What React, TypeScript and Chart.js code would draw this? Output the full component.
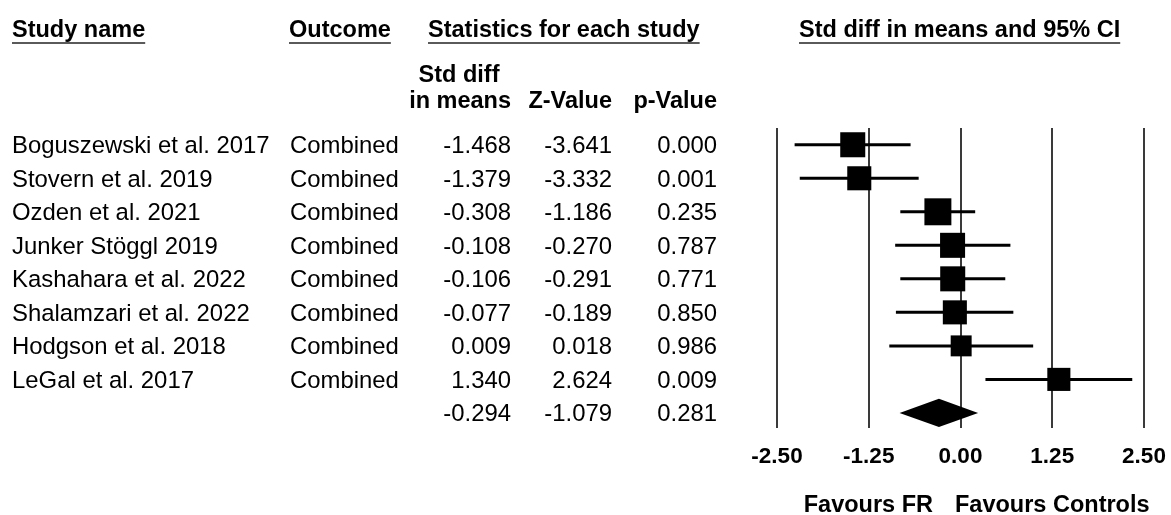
import React, { useEffect, useRef } from "react";
import { Chart, registerables } from "chart.js";

Chart.register(...registerables);

const studies = [
  "Boguszewski et al. 2017",
  "Stovern et al. 2019",
  "Ozden et al. 2021",
  "Junker Stöggl 2019",
  "Kashahara et al. 2022",
  "Shalamzari et al. 2022",
  "Hodgson et al. 2018",
  "LeGal et al. 2017",
];
const outcomes = ["Combined", "Combined", "Combined", "Combined", "Combined", "Combined", "Combined", "Combined"];
const stdDiff = [-1.468, -1.379, -0.308, -0.108, -0.106, -0.077, 0.009, 1.34];
const zValues = [-3.641, -3.332, -1.186, -0.27, -0.291, -0.189, 0.018, 2.624];
const pValues = [0.0, 0.001, 0.235, 0.787, 0.771, 0.85, 0.986, 0.009];
const lowerCI = [-2.26, -2.19, -0.82, -0.89, -0.82, -0.88, -0.97, 0.34];
const upperCI = [-0.68, -0.57, 0.2, 0.68, 0.61, 0.72, 0.99, 2.34];
const weights = [12.9, 12.4, 13.9, 12.9, 12.9, 12.4, 10.8, 11.9];

const summaryEst = -0.294;
const summaryLower = -0.83;
const summaryUpper = 0.24;
const summaryZ = -1.079;
const summaryP = 0.281;

const xTicks = [-2.5, -1.25, 0, 1.25, 2.5];

const FONT = "'Liberation Sans', Arial, sans-serif";
const FS = 23.5;
const FS_ROW = 23.9;

const forestPlugin = {
  id: "forest",
  beforeDatasetsDraw(chart: any) {
    const ctx = chart.ctx;
    const xs = chart.scales.x;
    const ys = chart.scales.y;
    ctx.save();
    ctx.strokeStyle = "#000";
    ctx.lineWidth = 3;
    for (let i = 0; i < stdDiff.length; i++) {
      const y = ys.getPixelForValue(i);
      ctx.beginPath();
      ctx.moveTo(xs.getPixelForValue(lowerCI[i]), y);
      ctx.lineTo(xs.getPixelForValue(upperCI[i]), y);
      ctx.stroke();
    }
    // summary diamond
    const si = stdDiff.length;
    const yc = ys.getPixelForValue(si);
    const yt = ys.getPixelForValue(si - 0.42);
    const yb = ys.getPixelForValue(si + 0.42);
    ctx.fillStyle = "#000";
    ctx.beginPath();
    ctx.moveTo(xs.getPixelForValue(summaryLower), yc);
    ctx.lineTo(xs.getPixelForValue(summaryEst), yt);
    ctx.lineTo(xs.getPixelForValue(summaryUpper), yc);
    ctx.lineTo(xs.getPixelForValue(summaryEst), yb);
    ctx.closePath();
    ctx.fill();
    ctx.restore();
  },
  afterDraw(chart: any) {
    const ctx = chart.ctx;
    const ys = chart.scales.y;
    ctx.save();
    ctx.fillStyle = "#000";
    ctx.textBaseline = "alphabetic";

    const header = (text: string, x: number) => {
      ctx.font = `bold ${FS}px ${FONT}`;
      ctx.textAlign = "left";
      ctx.fillText(text, x, 37);
      const w = ctx.measureText(text).width;
      ctx.fillStyle = "#5a5a5a";
      ctx.fillRect(x, 42, w, 2);
      ctx.fillStyle = "#000";
    };
    header("Study name", 12);
    header("Outcome", 289);
    header("Statistics for each study", 428);
    header("Std diff in means and 95% CI", 799);

    ctx.font = `bold ${FS}px ${FONT}`;
    ctx.textAlign = "center";
    ctx.fillText("Std diff", 459, 82);
    ctx.textAlign = "right";
    ctx.fillText("in means", 511, 108);
    ctx.fillText("Z-Value", 612, 108);
    ctx.fillText("p-Value", 717, 108);

    ctx.font = `${FS_ROW}px ${FONT}`;
    const rows = stdDiff.length;
    for (let i = 0; i <= rows; i++) {
      const yb = ys.getPixelForValue(i) + 8.4;
      const d = i < rows ? stdDiff[i] : summaryEst;
      const z = i < rows ? zValues[i] : summaryZ;
      const p = i < rows ? pValues[i] : summaryP;
      if (i < rows) {
        ctx.textAlign = "left";
        ctx.fillText(studies[i], 12, yb);
        ctx.fillText(outcomes[i], 290, yb);
      }
      ctx.textAlign = "right";
      ctx.fillText(d.toFixed(3), 511, yb);
      ctx.fillText(z.toFixed(3), 612, yb);
      ctx.fillText(p.toFixed(3), 717, yb);
    }

    ctx.font = `bold ${FS}px ${FONT}`;
    ctx.textAlign = "right";
    ctx.fillText("Favours FR", 933, 512);
    ctx.textAlign = "left";
    ctx.fillText("Favours Controls", 955, 512);
    ctx.restore();
  },
};

export default function App() {
  const ref = useRef<HTMLCanvasElement>(null);
  useEffect(() => {
    document.body.style.margin = "0";
    const canvas = ref.current;
    if (!canvas) return;
    const chart = new Chart(canvas, {
      type: "scatter",
      data: {
        datasets: [
          {
            data: stdDiff.map((v, i) => ({ x: v, y: i })),
            pointStyle: "rect",
            pointRadius: weights.map((w) => (w * 1.94) / Math.SQRT2),
            pointHoverRadius: weights.map((w) => (w * 1.94) / Math.SQRT2),
            backgroundColor: "#000",
            borderWidth: 0,
          },
        ],
      },
      options: {
        animation: false,
        responsive: false,
        devicePixelRatio: 1,
        events: [],
        layout: { padding: { left: 777, right: 27, top: 128, bottom: 47 } },
        plugins: { legend: { display: false }, tooltip: { enabled: false } },
        scales: {
          x: {
            type: "linear",
            min: -2.5,
            max: 2.5,
            afterBuildTicks: (scale: any) => {
              scale.ticks = xTicks.map((v) => ({ value: v }));
            },
            afterFit: (scale: any) => {
              scale.height = 40;
              scale.paddingLeft = 0;
              scale.paddingRight = 0;
            },
            ticks: {
              color: "#000",
              padding: 15,
              font: { family: FONT, size: 22.5, weight: "bold" },
              callback: (v: any) => Number(v).toFixed(2),
            },
            grid: { color: "#3a3a3a", lineWidth: 2, drawTicks: false },
            border: { display: false },
          },
          y: {
            type: "linear",
            display: false,
            reverse: true,
            min: -0.5,
            max: 8.45,
          },
        },
      },
      plugins: [forestPlugin],
    } as any);
    return () => chart.destroy();
  }, []);
  return (
    <div style={{ position: "fixed", left: 0, top: 0, width: 1171, height: 515, background: "#fff" }}>
      <canvas ref={ref} width={1171} height={515} style={{ width: 1171, height: 515, display: "block" }} />
    </div>
  );
}
